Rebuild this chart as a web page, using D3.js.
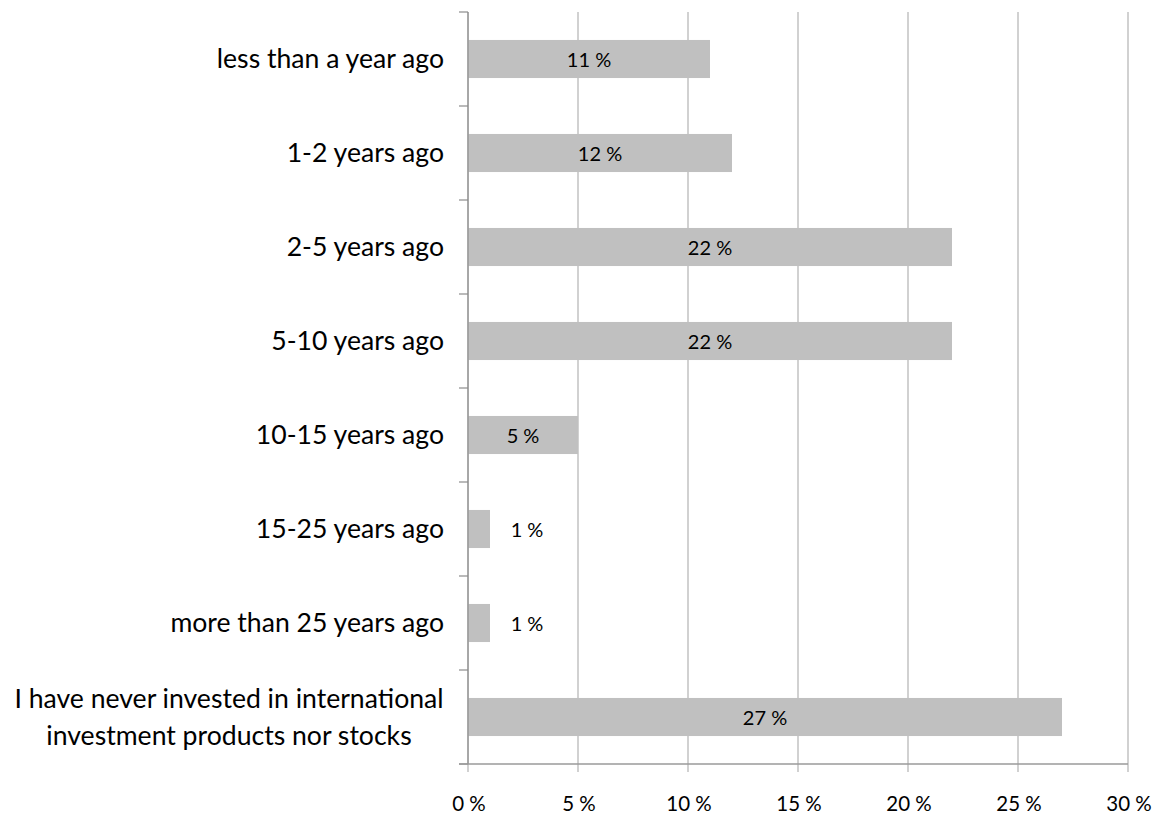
<!DOCTYPE html>
<html>
<head>
<meta charset="utf-8">
<script src="https://cdn.jsdelivr.net/npm/d3@7"></script>
<style>
  html, body { margin: 0; padding: 0; background: #fff; }
  svg text { font-family: Lato, "Open Sans", sans-serif; fill: #000; }
</style>
</head>
<body>
<svg id="chart" width="1171" height="814"></svg>
<script>
// Survey answers: when did you first invest in international products
const categories = [
  "less than a year ago",
  "1-2 years ago",
  "2-5 years ago",
  "5-10 years ago",
  "10-15 years ago",
  "15-25 years ago",
  "more than 25 years ago",
  "I have never invested in international|investment products nor stocks"
];
const shares = [11, 12, 22, 22, 5, 1, 1, 27];
const xTicks = [0, 5, 10, 15, 20, 25, 30];

const svg = d3.select("#chart");
const plotLeft = 468, plotRight = 1128, plotTop = 12, plotBottom = 764;

const x = d3.scaleLinear().domain([0, 30]).range([plotLeft, plotRight]);
const y = d3.scaleBand().domain(categories).range([plotTop, plotBottom]).paddingInner(0.595).paddingOuter(0.2975);

// vertical gridlines (extend below the axis as tick marks)
svg.append("g").selectAll("line").data(xTicks).join("line")
  .attr("x1", d => x(d)).attr("x2", d => x(d))
  .attr("y1", plotTop).attr("y2", plotBottom + 8)
  .attr("stroke", "#b3b3b3").attr("stroke-width", 1.2);

// bars
svg.append("g").selectAll("rect").data(shares).join("rect")
  .attr("x", x(0))
  .attr("y", (d, i) => y(categories[i]))
  .attr("width", d => x(d) - x(0))
  .attr("height", y.bandwidth())
  .attr("fill", "#c0c0c0");

// value labels: centred in the bar, or beside it when the bar is too short
svg.append("g").selectAll("text").data(shares).join("text")
  .attr("x", d => d >= 3 ? (x(0) + x(d)) / 2 : x(d) + 37)
  .attr("y", (d, i) => y(categories[i]) + y.bandwidth() / 2 + 1)
  .attr("dy", "0.36em")
  .attr("text-anchor", "middle")
  .attr("font-size", 20)
  .text(d => d + " %");

// category axis line and ticks
const bandStep = (plotBottom - plotTop) / categories.length;
svg.append("line")
  .attr("x1", plotLeft).attr("x2", plotLeft).attr("y1", plotTop).attr("y2", plotBottom)
  .attr("stroke", "#8c8c8c").attr("stroke-width", 1.2);
svg.append("g").selectAll("line").data(d3.range(categories.length + 1)).join("line")
  .attr("x1", plotLeft - 9).attr("x2", plotLeft)
  .attr("y1", i => plotTop + i * bandStep).attr("y2", i => plotTop + i * bandStep)
  .attr("stroke", "#8c8c8c").attr("stroke-width", 1.2);

// value axis line
svg.append("line")
  .attr("x1", plotLeft - 9).attr("x2", plotRight).attr("y1", plotBottom).attr("y2", plotBottom)
  .attr("stroke", "#9a9a9a").attr("stroke-width", 1.5);

// category labels
const catLabels = svg.append("g").selectAll("text").data(categories).join("text")
  .attr("text-anchor", "middle")
  .attr("font-size", 26.6);
catLabels.each(function(d) {
  const lines = d.split("|");
  const t = d3.select(this);
  const cy = y(d) + y.bandwidth() / 2;
  if (lines.length === 1) {
    t.attr("text-anchor", "end").attr("x", 444).attr("y", cy + 9);
    t.text(d);
  } else {
    t.attr("x", 229);
    lines.forEach((ln, j) => {
      t.append("tspan").attr("x", 229).attr("y", cy - 9 + j * 37).text(ln);
    });
  }
});

// value tick labels
svg.append("g").selectAll("text").data(xTicks).join("text")
  .attr("x", d => x(d) + 1).attr("y", 811)
  .attr("text-anchor", "middle")
  .attr("font-size", 20.5)
  .text(d => d + " %");
</script>
</body>
</html>
